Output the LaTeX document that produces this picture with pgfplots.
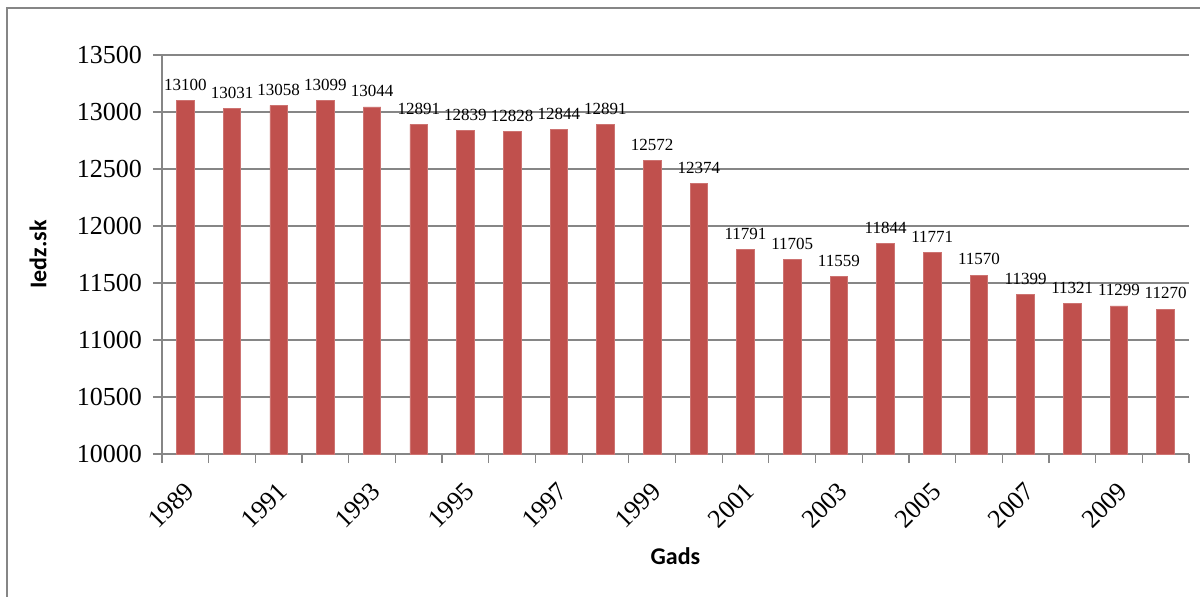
\documentclass[border=0pt]{standalone}
\usepackage{pgfplots}
\pgfplotsset{compat=1.18}
\usepackage{fontspec}
\setmainfont{Liberation Serif}
\newfontfamily\labelfont{Carlito}
\definecolor{barred}{HTML}{C0504D}
\definecolor{gridgray}{HTML}{868686}
\begin{document}
\begin{tikzpicture}
\useasboundingbox (0,0) rectangle (600pt,298pt);
\draw[gridgray, line width=0.7pt] (3.5pt,-1pt) -- (3.5pt,294pt) -- (601pt,294pt);
\begin{axis}[
  at={(81pt,71pt)}, anchor=south west,
  scale only axis,
  width=513.5pt, height=199.5pt,
  ybar, bar width=8.8pt,
  xmin=-0.5, xmax=21.5,
  ymin=10000, ymax=13500,
  ytick={10000,10500,...,13500},
  scaled y ticks=false,
  xtick={0,2,...,20},
  xticklabels={1989,1991,1993,1995,1997,1999,2001,2003,2005,2007,2009},
  minor xtick={-0.5,0.5,...,21.5},
  major x tick style={draw=none},
  minor tick length=4.5pt,
  major tick length=4.5pt,
  tick align=outside,
  axis x line*=bottom, axis y line*=left,
  axis line style={gridgray, line width=0.6pt},
  tick style={gridgray, line width=0.6pt},
  ymajorgrids, grid style={gridgray, line width=0.6pt},
  /pgf/number format/.cd, set thousands separator={}, assume math mode=true, /pgfplots/.cd,
  yticklabel={\pgfmathprintnumber[fixed,precision=0]{\tick}},
  y tick label style={font=\fontsize{13}{15}\selectfont, xshift=-2pt},
  x tick label style={font=\fontsize{13}{15}\selectfont, rotate=45, anchor=north east, xshift=-3.5pt, yshift=-2pt},
  xlabel={Gads}, ylabel={Iedz.sk},
  every axis x label/.style={at={(rel axis cs:0.5,0)}, yshift=-51pt, anchor=center, font=\labelfont\bfseries\fontsize{12}{14}\selectfont},
  every axis y label/.style={at={(rel axis cs:0,0.5)}, xshift=-62pt, rotate=90, anchor=center, font=\labelfont\bfseries\fontsize{12}{14}\selectfont},
  nodes near coords,
  nodes near coords style={/pgf/number format/fixed, /pgf/number format/precision=0},
  every node near coord/.append style={font=\fontsize{8.5}{10}\selectfont, black, yshift=1.5pt},
]
\addplot[fill=barred, draw=barred!80!white] coordinates {
(0,13100) (1,13031) (2,13058) (3,13099) (4,13044) (5,12891) (6,12839) (7,12828)
(8,12844) (9,12891) (10,12572) (11,12374) (12,11791) (13,11705) (14,11559) (15,11844)
(16,11771) (17,11570) (18,11399) (19,11321) (20,11299) (21,11270)};
\end{axis}
\end{tikzpicture}
\end{document}
